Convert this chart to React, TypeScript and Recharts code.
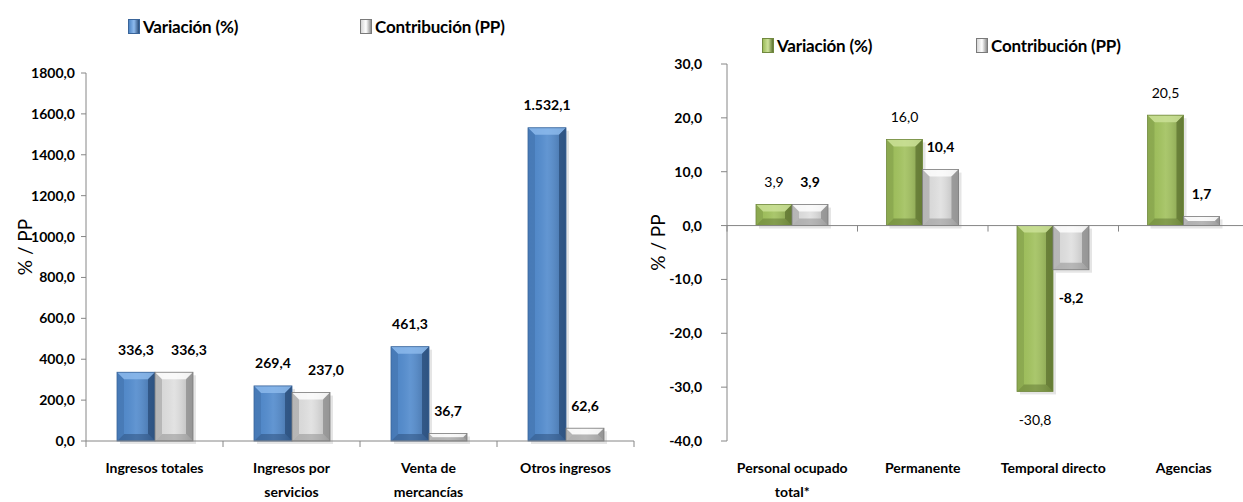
import React from "react";
import { BarChart, Bar, XAxis, YAxis, LabelList, ReferenceLine } from "recharts";

const ingresosCategories = ["Ingresos totales", "Ingresos por servicios", "Venta de mercancías", "Otros ingresos"];
const ingresosVariacion = [336.3, 269.4, 461.3, 1532.1];
const ingresosContribucion = [336.3, 237.0, 36.7, 62.6];
const ingresosTicks = [0, 200, 400, 600, 800, 1000, 1200, 1400, 1600, 1800];

const personalCategories = ["Personal ocupado total*", "Permanente", "Temporal directo", "Agencias"];
const personalVariacion = [3.9, 16.0, -30.8, 20.5];
const personalContribucion = [3.9, 10.4, -8.2, 1.7];
const personalTicks = [-40, -30, -20, -10, 0, 10, 20, 30];

const FONT = "Lato, 'Open Sans', sans-serif";
const AXIS_GRAY = "#868686";

type Palette = { face: string; light: string; dark: string; edge: string };
const BLUE: Palette = { face: "#4f86c6", light: "#8fbbee", dark: "#2a4c78", edge: "#3a659a" };
const GREEN: Palette = { face: "#9bbb59", light: "#cde29a", dark: "#5e7330", edge: "#71893f" };
const GRAY: Palette = { face: "#d6d6d6", light: "#ffffff", dark: "#8c8c8c", edge: "#7a7a7a" };

const fmtTick = (v: number) => v.toFixed(1).replace(".", ",");
const fmtLabel = (v: number) => {
  const neg = v < 0;
  const [int, dec] = Math.abs(v).toFixed(1).split(".");
  const grouped = int.replace(/\B(?=(\d{3})+(?!\d))/g, ".");
  return (neg ? "-" : "") + grouped + "," + dec;
};

function wrapLabel(text: string, max = 16) {
  const words = text.split(" ");
  const lines: string[] = [];
  let cur = "";
  for (const w of words) {
    const next = cur ? cur + " " + w : w;
    if (next.length > max && cur) {
      lines.push(cur);
      cur = w;
    } else cur = next;
  }
  if (cur) lines.push(cur);
  return lines;
}

function makeBevel(p: Palette, id: string) {
  return (props: any) => {
    const { x, y, width, height } = props;
    if (width == null || height == null) return null;
    const top = Math.min(y, y + height);
    const h = Math.abs(height);
    const left = x;
    const w = width;
    const b = Math.max(1, Math.min(7, w / 5, h / 2));
    return (
      <g>
        <defs>
          <linearGradient id={id} x1="0" y1="0" x2="1" y2="0">
            <stop offset="0%" stopColor={p.face} stopOpacity={0} />
            <stop offset="50%" stopColor={p.light} stopOpacity={0.3} />
            <stop offset="100%" stopColor={p.dark} stopOpacity={0.55} />
          </linearGradient>
        </defs>
        <rect x={left + 3} y={top + 3} width={w} height={h} fill="#000" opacity={0.1} />
        <rect x={left} y={top} width={w} height={h} fill={p.face} />
        <rect x={left} y={top} width={w} height={h} fill={`url(#${id})`} />
        <polygon points={`${left},${top} ${left + w},${top} ${left + w - b},${top + b} ${left + b},${top + b}`} fill={p.light} opacity={0.8} />
        <polygon points={`${left + w},${top} ${left + w},${top + h} ${left + w - b},${top + h - b} ${left + w - b},${top + b}`} fill={p.dark} opacity={0.75} />
        <polygon points={`${left},${top + h} ${left + w},${top + h} ${left + w - b},${top + h - b} ${left + b},${top + h - b}`} fill={p.dark} opacity={0.5} />
        <polygon points={`${left},${top} ${left + b},${top + b} ${left + b},${top + h - b} ${left},${top + h}`} fill={p.edge} opacity={0.35} />
        <rect x={left} y={top} width={w} height={h} fill="none" stroke={p.edge} strokeWidth={0.8} />
      </g>
    );
  };
}

// sibling: values of the other series in the group, used to nudge a label that would overlap
function makeLabel(bold: boolean, sibling?: number[]) {
  return (props: any) => {
    const { x, y, width, height, value, index } = props;
    const v = Number(value);
    const top = Math.min(y, y + height);
    const bottom = Math.max(y, y + height);
    let cx = x + width / 2;
    const text = fmtLabel(v);
    if (sibling && v > 0 && sibling[index] > 0 && Math.abs(height) > 0) {
      const pxPer = Math.abs(height) / v;
      const sibTop = bottom - sibling[index] * pxPer;
      if (Math.abs(sibTop - top) < 12 && text.length * 7.4 > width * 0.9) cx += 15;
    }
    const ty = v < 0 ? bottom + 28 : top - 23;
    return (
      <text x={cx} y={ty} textAnchor="middle" dominantBaseline="central" fontFamily={FONT} fontSize={14} fontWeight={bold ? 700 : 400} fill="#000">
        {text}
      </text>
    );
  };
}

function CategoryTick(props: any) {
  const { x, y, payload } = props;
  const lines = wrapLabel(String(payload.value));
  return (
    <g>
      {lines.map((ln, i) => (
        <text key={i} x={x} y={y + 18 + i * 24} textAnchor="middle" dominantBaseline="central" fontFamily={FONT} fontSize={14} fontWeight={700} fill="#000">
          {ln}
        </text>
      ))}
    </g>
  );
}

function makeZeroAxis(n: number) {
  return (props: any) => {
    const { x1, y1, x2 } = props;
    const band = (x2 - x1) / n;
    const ticks = Array.from({ length: n + 1 }, (_, i) => x1 + i * band);
    return (
      <g>
        <line x1={x1} y1={y1} x2={x2} y2={y1} stroke={AXIS_GRAY} strokeWidth={1} />
        {ticks.map((tx, i) => (
          <line key={i} x1={tx} y1={y1} x2={tx} y2={y1 + 6} stroke={AXIS_GRAY} strokeWidth={1} />
        ))}
      </g>
    );
  };
}

const makeYLabel = (dx: number) => (props: any) => {
  const vb = props.viewBox || {};
  const cx = (vb.x ?? 0) + dx;
  const cy = (vb.y ?? 0) + (vb.height ?? 0) / 2 - 10;
  return (
    <text x={cx} y={cy} transform={`rotate(-90 ${cx} ${cy})`} textAnchor="middle" dominantBaseline="central" fontFamily={FONT} fontSize={19} fill="#000">
      % / PP
    </text>
  );
};

function LegendRow({ items, left, top, gap }: { items: { name: string; color: Palette }[]; left: number; top: number; gap: number }) {
  return (
    <div style={{ position: "absolute", left, top, display: "flex", gap, fontFamily: FONT, fontWeight: 700, fontSize: 17, color: "#000", whiteSpace: "nowrap", letterSpacing: -0.2 }}>
      {items.map((it) => (
        <div key={it.name} style={{ display: "flex", alignItems: "center" }}>
          <span style={{ display: "inline-block", width: 10, height: 13, marginRight: 3, background: `linear-gradient(90deg, ${it.color.face}, ${it.color.light} 50%, ${it.color.dark})`, border: `1px solid ${it.color.edge}` }} />
          <span>{it.name}</span>
        </div>
      ))}
    </div>
  );
}

const ingresosData = ingresosCategories.map((c, i) => ({ name: c, variacion: ingresosVariacion[i], contribucion: ingresosContribucion[i] }));
const personalData = personalCategories.map((c, i) => ({ name: c, variacion: personalVariacion[i], contribucion: personalContribucion[i] }));

const tickStyle = { fontFamily: FONT, fontSize: 14, fontWeight: 700, fill: "#000" };

export default function App() {
  return (
    <div style={{ position: "absolute", left: 0, top: 0, width: 1243, height: 502, overflow: "hidden", background: "#fff" }}>
      <div style={{ position: "absolute", left: 0, top: 0 }}>
        <BarChart width={636} height={502} data={ingresosData} margin={{ top: 73, right: 2, bottom: 0, left: 0 }} barCategoryGap={31} barGap={0}>
          <XAxis dataKey="name" height={61} axisLine={false} tickLine={false} tick={<CategoryTick />} interval={0} />
          <YAxis width={86} domain={[0, 1800]} ticks={ingresosTicks} tickFormatter={fmtTick} tick={tickStyle} axisLine={{ stroke: AXIS_GRAY }} tickLine={{ stroke: AXIS_GRAY }} tickSize={5} tickMargin={6} label={{ content: makeYLabel(24) }} />
          <ReferenceLine y={0} shape={makeZeroAxis(ingresosCategories.length)} />
          <Bar dataKey="variacion" name="Variación (%)" isAnimationActive={false} shape={makeBevel(BLUE, "gBlue")}>
            <LabelList dataKey="variacion" content={makeLabel(true)} />
          </Bar>
          <Bar dataKey="contribucion" name="Contribución (PP)" isAnimationActive={false} shape={makeBevel(GRAY, "gGrayL")}>
            <LabelList dataKey="contribucion" content={makeLabel(true, ingresosVariacion)} />
          </Bar>
        </BarChart>
      </div>
      <div style={{ position: "absolute", left: 640, top: 0 }}>
        <BarChart width={610} height={502} data={personalData} margin={{ top: 64, right: 1, bottom: 0, left: 0 }} barCategoryGap={29} barGap={0}>
          <XAxis dataKey="name" height={61} axisLine={false} tickLine={false} tick={<CategoryTick />} interval={0} />
          <YAxis width={87} domain={[-40, 30]} ticks={personalTicks} tickFormatter={fmtTick} tick={tickStyle} axisLine={{ stroke: AXIS_GRAY }} tickLine={{ stroke: AXIS_GRAY }} tickSize={6} tickMargin={19} label={{ content: makeYLabel(17) }} />
          <ReferenceLine y={0} shape={makeZeroAxis(personalCategories.length)} />
          <Bar dataKey="variacion" name="Variación (%)" isAnimationActive={false} shape={makeBevel(GREEN, "gGreen")}>
            <LabelList dataKey="variacion" content={makeLabel(false)} />
          </Bar>
          <Bar dataKey="contribucion" name="Contribución (PP)" isAnimationActive={false} shape={makeBevel(GRAY, "gGrayR")}>
            <LabelList dataKey="contribucion" content={makeLabel(true, personalVariacion)} />
          </Bar>
        </BarChart>
      </div>
      <LegendRow left={128} top={16} gap={122} items={[{ name: "Variación (%)", color: BLUE }, { name: "Contribución (PP)", color: GRAY }]} />
      <LegendRow left={762} top={35} gap={104} items={[{ name: "Variación (%)", color: GREEN }, { name: "Contribución (PP)", color: GRAY }]} />
    </div>
  );
}
